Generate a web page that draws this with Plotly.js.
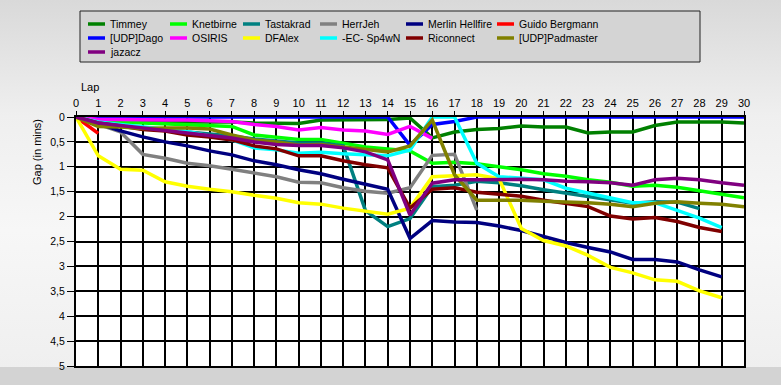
<!DOCTYPE html>
<html>
<head>
<meta charset="utf-8">
<script src="https://cdn.plot.ly/plotly-3.0.1.min.js"></script>
<style>
html,body{margin:0;padding:0;}
body{width:781px;height:385px;overflow:hidden;background:linear-gradient(to bottom,#d9d9d9 0%,#efefef 30%,#f7f7f7 60%,#eeeeee 100%);}
#chart{width:781px;height:385px;}
</style>
</head>
<body>
<div id="chart"></div>
<script>
const laps = [0,1,2,3,4,5,6,7,8,9,10,11,12,13,14,15,16,17,18,19,20,21,22,23,24,25,26,27,28,29,30];
const xTickLabels = laps.map(String);
const yTickVals = [0,0.5,1,1.5,2,2.5,3,3.5,4,4.5,5];

const names = ["Timmey","Knetbirne","Tastakrad","HerrJeh","Merlin Hellfire","Guido Bergmann","[UDP]Dago","OSIRIS","DFAlex","-EC- Sp4wN","Riconnect","[UDP]Padmaster","jazacz"];
const colors = ["#008000","#00ff00","#008080","#808080","#000080","#ff0000","#0000ff","#ff00ff","#ffff00","#00ffff","#800000","#808000","#800080"];

const timmey = [0,0.08,0.1,0.1,0.1,0.1,0.1,0.1,0.12,0.13,0.13,0.06,0.06,0.05,0.05,0.02,0.42,0.3,0.25,0.23,0.18,0.2,0.2,0.32,0.3,0.3,0.17,0.1,0.1,0.1,0.12];
const knetbirne = [0,0.05,0.1,0.12,0.14,0.16,0.17,0.19,0.36,0.4,0.45,0.45,0.53,0.6,0.64,0.68,0.93,0.91,0.94,1.0,1.06,1.14,1.19,1.26,1.31,1.39,1.37,1.41,1.48,1.55,1.62];
const tastakrad = [0,0.12,0.18,0.22,0.26,0.3,0.33,0.38,0.44,0.48,0.52,0.52,0.58,1.88,2.2,2.04,1.4,1.37,1.29,1.32,1.38,1.46,1.53,1.6,1.67,1.73,1.7,1.71,1.84];
const herrjeh = [0,0.15,0.3,0.75,0.83,0.93,0.98,1.05,1.13,1.2,1.31,1.32,1.42,1.49,1.53,1.42,0.77,0.75,1.87];
const merlin = [0,0.13,0.28,0.4,0.5,0.58,0.68,0.76,0.88,0.96,1.06,1.14,1.25,1.35,1.45,2.44,2.08,2.11,2.12,2.19,2.28,2.4,2.52,2.62,2.71,2.86,2.86,2.91,3.07,3.21];
const guido = [0,0.33];
const dago = [0,0,0,0,0,0,0,0,0,0,0,0,0,0,0,0.57,0.15,0.09,0,0,0,0,0,0,0,0,0,0,0,0,0];
const osiris = [0,0.05,0.05,0.06,0.06,0.06,0.07,0.09,0.15,0.19,0.26,0.21,0.26,0.28,0.35,0.19,0.43];
const dfalex = [0,0.78,1.05,1.07,1.3,1.39,1.45,1.5,1.57,1.63,1.72,1.75,1.83,1.89,1.95,1.83,1.2,1.18,1.16,1.24,2.24,2.48,2.59,2.78,3.02,3.13,3.27,3.3,3.49,3.63];
const sp4wn = [0,0.1,0.15,0.2,0.25,0.29,0.38,0.46,0.62,0.66,0.73,0.71,0.74,0.76,0.78,0.66,0,0,0.93,1.2,1.23,1.26,1.43,1.53,1.63,1.72,1.72,1.87,2.03,2.22];
const riconnect = [0,0.12,0.18,0.25,0.28,0.36,0.4,0.46,0.58,0.64,0.78,0.78,0.88,0.96,1.02,1.83,1.45,1.42,1.51,1.55,1.59,1.67,1.73,1.8,1.99,2.05,2.02,2.1,2.22,2.3];
const padmaster = [0,0.19,0.2,0.23,0.22,0.22,0.24,0.36,0.46,0.5,0.56,0.55,0.6,0.65,0.7,0.58,0.06,1.16,1.67,1.67,1.67,1.69,1.7,1.72,1.75,1.8,1.73,1.7,1.73,1.75,1.8];
const jazacz = [0,0.12,0.17,0.22,0.27,0.33,0.37,0.42,0.5,0.55,0.57,0.57,0.62,0.7,0.86,1.97,1.33,1.26,1.26,1.25,1.25,1.26,1.29,1.3,1.32,1.37,1.26,1.23,1.26,1.32,1.37];

const series = [timmey,knetbirne,tastakrad,herrjeh,merlin,guido,dago,osiris,dfalex,sp4wn,riconnect,padmaster,jazacz];

const traces = series.map((vals,i)=>({
  type:'scatter', mode:'lines',
  x: laps.slice(0, vals.length), y: vals,
  name: names[i],
  line:{color:colors[i], width:3.5},
  hoverinfo:'skip', showlegend:false
}));

const W = 781, H = 385, L = 76, R = 37, T = 117, B = 19;
const pw = W-L-R, ph = H-T-B;
const px = v => (v-L)/pw;
const py = v => (H-B-v)/ph;

// legend layout (pixel positions of the boxed legend)
const legCols = [88,170,243,320,406,497];
const legRows = [24,38,52];

const shapes = [
  {type:'rect', xref:'paper', yref:'paper', x0:px(80), x1:px(700), y0:py(62), y1:py(11),
   fillcolor:'#d4d4d4', line:{color:'#222', width:1}, layer:'below'},
  {type:'rect', xref:'paper', yref:'paper', x0:px(0), x1:px(781), y0:py(385), y1:py(367),
   fillcolor:'#d3d3d3', line:{width:0}, layer:'below'}
];
const annotations = [
  {text:'Lap', xref:'paper', yref:'paper', x:px(79), y:py(87), xanchor:'left', yanchor:'middle', showarrow:false, font:{size:11}},
  {text:'Gap (in mins)', xref:'paper', yref:'paper', x:px(37), y:py(152), xanchor:'center', yanchor:'middle', textangle:-90, showarrow:false, font:{size:11}}
];
names.forEach((n,i)=>{
  const cx = legCols[i%6], cy = legRows[Math.floor(i/6)];
  shapes.push({type:'line', xref:'paper', yref:'paper', x0:px(cx), x1:px(cx+17), y0:py(cy), y1:py(cy),
    line:{color:colors[i], width:3.5}});
  annotations.push({text:n, xref:'paper', yref:'paper', x:px(cx+20), y:py(cy), xanchor:'left', yanchor:'middle',
    showarrow:false, font:{size:10.5, color:'#000'}});
});

const layout = {
  width:W, height:H,
  margin:{l:L, r:R, t:T, b:B, pad:0},
  paper_bgcolor:'rgba(0,0,0,0)',
  plot_bgcolor:'#ffffff',
  separators:',.',
  font:{family:'"Liberation Sans", Arial, sans-serif', size:11, color:'#000'},
  showlegend:false,
  xaxis:{
    range:[0,30], side:'top', tickmode:'array', tickvals:laps, ticktext:xTickLabels,
    showgrid:true, gridcolor:'#000', gridwidth:2, zeroline:false,
    showline:true, linecolor:'#000', linewidth:2, mirror:true,
    ticks:'outside', ticklen:4, tickcolor:'#000', tickfont:{size:11}, fixedrange:true
  },
  yaxis:{
    range:[5,0], tickmode:'array', tickvals:yTickVals,
    showgrid:true, gridcolor:'#000', gridwidth:2, zeroline:false,
    showline:true, linecolor:'#000', linewidth:2, mirror:true,
    ticks:'outside', ticklen:7, tickcolor:'#000', tickfont:{size:10.5}, fixedrange:true
  },
  shapes: shapes,
  annotations: annotations
};

Plotly.newPlot('chart', traces, layout, {displayModeBar:false, staticPlot:true});
</script>
</body>
</html>
